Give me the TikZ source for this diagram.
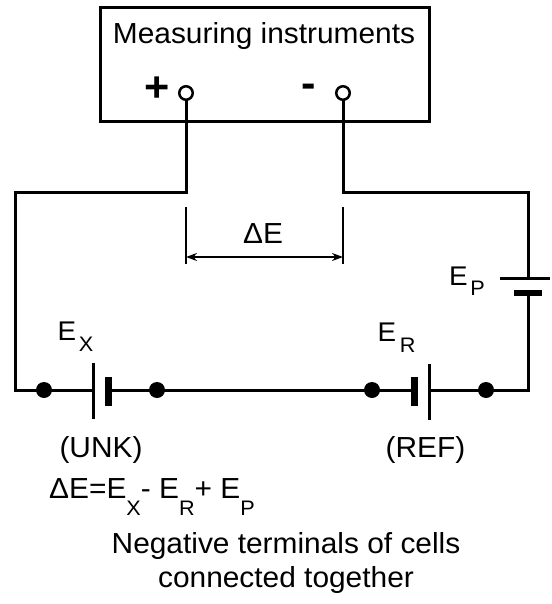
\documentclass[tikz,border=0pt]{standalone}
\usepackage{fontspec}
\setmainfont{Liberation Sans}[FakeStretch=1.03]
\usetikzlibrary{arrows.meta}
\newcommand\mysub[2]{\raisebox{-#1pt}{\fontsize{21}{21}\selectfont #2}}
\begin{document}
\begin{tikzpicture}[x=1pt,y=-1pt,
  wire/.style={line width=3pt, line join=miter},
  thinplt/.style={fill=black, inner sep=0pt, minimum width=3pt, minimum height=56pt},
  thickplt/.style={fill=black, inner sep=0pt, minimum width=7pt, minimum height=29pt},
  dot/.style={circle, fill=black, inner sep=0pt, minimum size=16pt},
  term/.style={circle, draw=black, fill=white, line width=2.5pt, inner sep=0pt, minimum size=13.5pt},
  dim/.style={line width=1.6pt},
  txt/.style={inner sep=0pt, anchor=base, font=\fontsize{29}{34}\selectfont},
  elab/.style={inner sep=0pt, anchor=base west, font=\fontsize{27}{30}\selectfont},
  sign/.style={inner sep=0pt, font=\fontsize{42}{42}\selectfont\bfseries}]
\useasboundingbox (0,0) rectangle (551,604);
% instrument box
\draw[line width=3pt] (100,8) rectangle (429,122);
\node[txt] (title) at (264,44) {Measuring instruments};
\node[sign] (plus) at (157,89) {+};
\node[sign] (minus) at (309,90.5) {-};
% plates and coordinates
\node[thinplt] (pxt) at (93,391) {};
\node[thickplt] (pxk) at (108,391.5) {};
\node[thickplt] (prk) at (414,391.5) {};
\node[thinplt] (prt) at (429,392) {};
\node[fill=black, inner sep=0pt, minimum width=50pt, minimum height=3pt] (ppt) at (525,278) {};
\node[fill=black, inner sep=0pt, minimum width=28pt, minimum height=6.5pt] (ppk) at (528,293) {};
\coordinate (c1) at (186,192);
\coordinate (c2) at (15,192);
\coordinate (c3) at (15,390);
\coordinate (c4) at (528,390);
\coordinate (c5) at (528,192);
\coordinate (c6) at (343,192);
\coordinate (tpc) at (186,93);
\coordinate (tmc) at (343,93);
% wires
\draw[wire] (tpc) -- (c1) -- (c2) -- (c3) -- (pxt.center |- c3);
\draw[wire] (pxk.center |- c3) -- (prk.center |- c3);
\draw[wire] (prt.center |- c3) -- (c4) -- (c4 |- ppk.center);
\draw[wire] (c4 |- ppt.center) -- (c5) -- (c6) -- (tmc);
% terminals
\node[term] (tp) at (tpc) {};
\node[term] (tm) at (tmc) {};
% dots
\node[dot] (d1) at (44,390) {};
\node[dot] (d2) at (157,390) {};
\node[dot] (d3) at (372,390) {};
\node[dot] (d4) at (486,390) {};
% dimension
\coordinate (t1a) at (186,207);
\coordinate (t1b) at (186,264);
\coordinate (t2a) at (343,207);
\coordinate (t2b) at (343,264);
\draw[dim] (t1a) -- (t1b);
\draw[dim] (t2a) -- (t2b);
\coordinate (a1) at (186,257);
\coordinate (a2) at (343,257);
\draw[line width=1.8pt, {Stealth[length=11pt,width=8pt]}-{Stealth[length=11pt,width=8pt]}] (a1) -- (a2);
\node[txt] (de) at (263,243) {ΔE};
% labels
\node[elab] (ex) at (57.5,340) {E\kern2.5pt\mysub{11}{X}};
\node[elab] (er) at (377.5,341) {E\kern3.5pt\mysub{11}{R}};
\node[elab] (ep) at (449,285) {E\kern2.5pt\mysub{10}{P}};
\node[txt] (unk) at (101,457) {(UNK)};
\node[txt] (ref) at (425.5,457) {(REF)};
\node[inner sep=0pt, anchor=base west, font=\fontsize{29}{34}\selectfont] (eq) at (49,498)
  {ΔE=E\mysub{17}{X}- E\mysub{17}{R}+ E\mysub{17}{P}};
\node[txt] (n1) at (286,553) {Negative terminals of cells};
\node[txt] (n2) at (286,587) {connected together};
\end{tikzpicture}
\end{document}
